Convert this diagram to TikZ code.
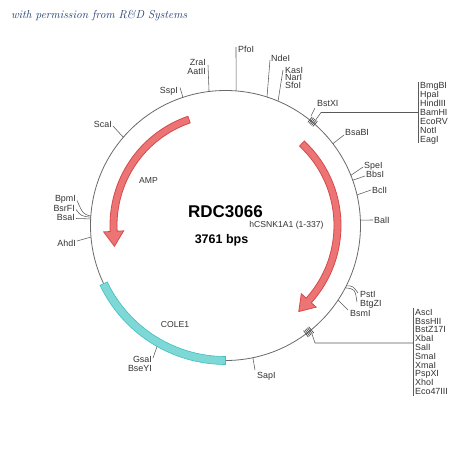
\documentclass[tikz,border=0pt]{standalone}
\usepackage{fontspec}
\newfontfamily\lab{Liberation Sans}
\usetikzlibrary{calc}
\definecolor{labc}{HTML}{333333}
\definecolor{circc}{HTML}{6A6A6A}
\definecolor{leadc}{HTML}{5A5A5A}
\definecolor{arrf}{HTML}{EC7474}
\definecolor{arrd}{HTML}{D84848}
\definecolor{colf}{HTML}{7ED8D6}
\definecolor{cold}{HTML}{3FC0C0}
\definecolor{notec}{HTML}{1F3A6E}
\tikzset{
  site/.style={font=\lab\fontsize{8.9}{9}\selectfont, text=labc, inner sep=0pt, text height=6.4pt, text depth=0pt},
  lead/.style={draw=leadc, line width=0.55pt},
  tickm/.style={draw=leadc!80!black, line width=0.7pt},
  backbone/.style={draw=circc, line width=0.8pt},
  redarrow/.style={fill=arrf, draw=arrd, line width=0.8pt},
  colband/.style={fill=colf, draw=cold, line width=0.6pt},
  note/.style={font=\fontsize{11.5}{13}\selectfont\itshape, text=notec, inner sep=0pt},
  title/.style={font=\lab\bfseries\fontsize{17}{19}\selectfont, text=black, inner sep=0pt},
  sub/.style={font=\lab\bfseries\fontsize{12.5}{14}\selectfont, text=black, inner sep=0pt},
  feat/.style={font=\lab\fontsize{8.6}{9}\selectfont, text=labc, inner sep=0pt}
}
\begin{document}
\begin{tikzpicture}[x=1pt,y=-1pt]
\useasboundingbox[fill=white] (0,0) rectangle (450,450);
\node[note, anchor=west] (note) at (11,16) {with permission from R\&D Systems};

\begin{scope}[shift={(225.5,225.5)}, yscale=-1]
  \coordinate (C) at (0,0);
  \draw[backbone] (C) circle[radius=135];
  \filldraw[colband] (205.5:139) arc[start angle=205.5,end angle=270,radius=139]
     -- (270:131) arc[start angle=270,end angle=205.5,radius=131] -- cycle;
  \filldraw[redarrow] (47:115.5) arc[start angle=47,end angle=-42,radius=115.5]
     -- (-42:122) -- (-49.6:113) -- (-42:102) -- (-42:108.5)
     arc[start angle=-42,end angle=47,radius=108.5] -- cycle;
  \filldraw[redarrow] (109:115.5) arc[start angle=109,end angle=183,radius=115.5]
     -- (183:122) -- (190.6:113) -- (183:102) -- (183:108.5)
     arc[start angle=183,end angle=109,radius=108.5] -- cycle;
  \coordinate (kPfo) at (85.5:135);
  \coordinate (kZra) at (97:135);
  \coordinate (kSsp) at (108.4:135);
  \coordinate (kNde) at (72.1:135);
  \coordinate (kKas) at (67.1:135);
  \coordinate (kBstX) at (52:139);
  \coordinate (kUp) at (49.5:139);
  \coordinate (kBsaB) at (37.3:135);
  \coordinate (kSpe) at (21.8:135);
  \coordinate (kBbs) at (19.6:135);
  \coordinate (kBcl) at (13.1:135);
  \coordinate (kBal) at (2.3:135);
  \coordinate (kPst) at (-26.5:135);
  \coordinate (kBtg) at (-27.5:135);
  \coordinate (kBsm) at (-33.5:135);
  \coordinate (kLow) at (-51.5:139);
  \coordinate (kSap) at (-78.3:135);
  \coordinate (kGsa) at (240.5:139);
  \coordinate (kAhd) at (184.9:135);
  \coordinate (kBsa) at (177.2:135);
  \coordinate (kBsr) at (176.5:135);
  \coordinate (kBpm) at (176:135);
  \coordinate (kSca) at (139.2:135);
  \foreach \a in {48.6,49.3,50,50.7,51.4} \draw[tickm] (\a:132) -- (\a:139);
  \foreach \a in {-50.6,-51.3,-52,-52.7,-53.4} \draw[tickm] (\a:131) -- (\a:139);
\end{scope}

% centre texts
\node[title] (name) at (225.5,212) {RDC3066};
\node[sub] (size) at (221.5,240) {3761 bps};
\node[feat] (gene) at (286.5,225.5) {hCSNK1A1 (1-337)};
\node[feat] (amp) at (148.5,180.5) {AMP};
\node[feat] (cole) at (175,324.5) {COLE1};

% top
\node[site, anchor=west] (nPfo) at (238,49) {PfoI};
\coordinate (ePfo) at (236,47);
\draw[lead] (kPfo) -- (ePfo);
\node[site, anchor=east] (nZra) at (206,62) {ZraI};
\node[site, anchor=east] (nAat) at (206,71) {AatII};
\coordinate (eZra) at (208,65);
\draw[lead] (kZra) -- (eZra);
\node[site, anchor=east] (nSsp) at (178,90) {SspI};
\coordinate (eSsp) at (180,87.5);
\draw[lead] (kSsp) -- (eSsp);
\node[site, anchor=west] (nNde) at (271,58) {NdeI};
\coordinate (eNde) at (270,60);
\draw[lead] (kNde) -- (eNde);
\node[site, anchor=west] (nKas) at (285,70) {KasI};
\node[site, anchor=west] (nNar) at (285,77.5) {NarI};
\node[site, anchor=west] (nSfo) at (285,85) {SfoI};
\coordinate (eKas) at (283,70);
\draw[lead] (kKas) -- (eKas);

% upper right cluster
\node[site, anchor=west] (nBstX) at (317,103) {BstXI};
\coordinate (eBstX) at (315,108);
\draw[lead] (kBstX) -- (eBstX);
\coordinate (uBend) at (321,112.5);
\coordinate (uJoin) at (418,112.5);
\coordinate (uTop) at (418,82);
\coordinate (uBot) at (418,143);
\draw[lead] (kUp) -- (uBend) -- (uJoin);
\draw[lead] (uTop) -- (uBot);
\foreach \t [count=\i from 0] in {BmgBI,HpaI,HindIII,BamHI,EcoRV,NotI,EagI}
  \node[site, anchor=west] (u\i) at (420,85+9.1*\i) {\t};

\node[site, anchor=west] (nBsaB) at (345,132) {BsaBI};
\coordinate (eBsaB) at (344,135);
\draw[lead] (kBsaB) -- (eBsaB);
\node[site, anchor=west] (nSpe) at (364,165) {SpeI};
\coordinate (eSpe) at (363,167);
\draw[lead] (kSpe) -- (eSpe);
\node[site, anchor=west] (nBbs) at (366,174) {BbsI};
\coordinate (eBbs) at (365,176);
\draw[lead] (kBbs) -- (eBbs);
\node[site, anchor=west] (nBcl) at (372,190) {BclI};
\coordinate (eBcl) at (371,190);
\draw[lead] (kBcl) -- (eBcl);
\node[site, anchor=west] (nBal) at (374,220) {BalI};
\coordinate (eBal) at (373,220);
\draw[lead] (kBal) -- (eBal);

% lower right
\node[site, anchor=west] (nPst) at (360,294) {PstI};
\coordinate (ePst) at (358,293);
\draw[lead] (kPst) .. controls (353,286) .. (ePst);
\node[site, anchor=west] (nBtg) at (360,303) {BtgZI};
\coordinate (eBtg) at (357,302);
\draw[lead] (kBtg) .. controls (355,289) .. (eBtg);
\node[site, anchor=west] (nBsm) at (350,313) {BsmI};
\coordinate (eBsm) at (348,310);
\draw[lead] (kBsm) -- (eBsm);

\coordinate (lBend) at (315,343);
\coordinate (lJoin) at (413,343);
\coordinate (lTop) at (413,308);
\coordinate (lBot) at (413,396);
\draw[lead] (kLow) -- (lBend) -- (lJoin);
\draw[lead] (lTop) -- (lBot);
\foreach \t [count=\i from 0] in {AscI,BssHII,BstZ17I,XbaI,SalI,SmaI,XmaI,PspXI,XhoI,Eco47III}
  \node[site, anchor=west] (l\i) at (415,312+8.8*\i) {\t};

% bottom
\node[site, anchor=north west] (nSap) at (257,372) {SapI};
\coordinate (eSap) at (255,370);
\draw[lead] (kSap) -- (eSap);
\node[site, anchor=east] (nGsa) at (152,359) {GsaI};
\node[site, anchor=east] (nBse) at (152,368) {BseYI};
\coordinate (eGsa) at (153,358);
\draw[lead] (kGsa) -- (eGsa);

% left
\node[site, anchor=east] (nAhd) at (76,243) {AhdI};
\coordinate (eAhd) at (77,241);
\draw[lead] (kAhd) -- (eAhd);
\node[site, anchor=east] (nBsa) at (75,217.5) {BsaI};
\coordinate (eBsa) at (76,218.5);
\draw[lead] (eBsa) -- (kBsa);
\node[site, anchor=east] (nBsr) at (75,208) {BsrFI};
\coordinate (eBsr) at (76,209.5);
\draw[lead] (eBsr) .. controls (81,216) .. (kBsr);
\node[site, anchor=east] (nBpm) at (76,198.5) {BpmI};
\coordinate (eBpm) at (77,200.5);
\draw[lead] (eBpm) .. controls (83,214) .. (kBpm);
\node[site, anchor=east] (nSca) at (112,124) {ScaI};
\coordinate (eSca) at (113,126);
\draw[lead] (kSca) -- (eSca);
\end{tikzpicture}
\end{document}
